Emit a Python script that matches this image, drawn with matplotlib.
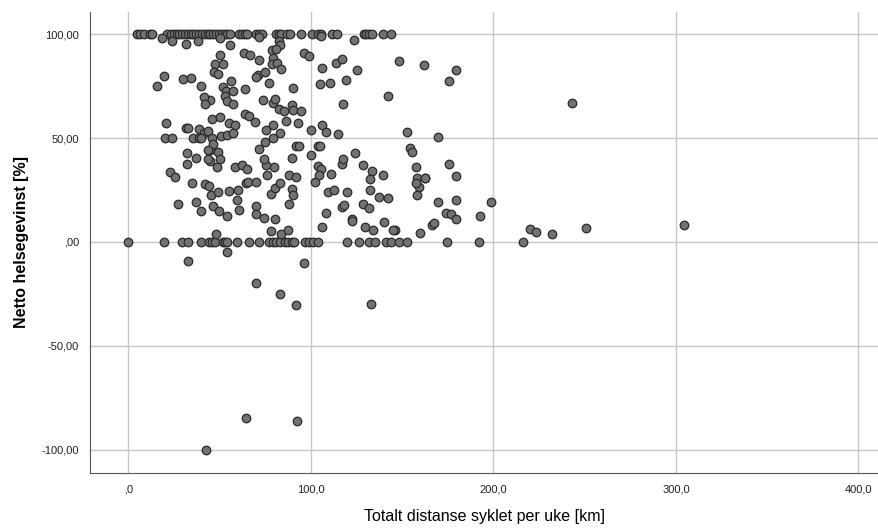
import numpy as np
import matplotlib
matplotlib.use("Agg")
import matplotlib.pyplot as plt

# points (km per week, net health gain %)
top_row_x = [4.7, 6.2, 8.7, 11.8, 13, 21, 23.3, 24.8, 26.4, 28, 29.5, 31, 32.6, 34.2, 35.7,
             37.3, 38.8, 40.4, 41.9, 43.5, 45, 46.6, 48.1, 49.7, 51.2, 52.8, 54.3, 55.9,
             60.6, 62.1, 63.7, 65.2, 69.9, 71.4, 73, 80.7, 82.3, 83.9, 87, 88.5, 94.7,
             100.9, 104, 105.6, 111.8, 114.3, 128.9, 130.4, 132, 133.5, 139.8, 143.8]

zero_row_x = [0, 19.6, 29.5, 32.9, 39.8, 44.1, 45.7, 47.5, 51.6, 52.8, 54.3, 59.6, 66.1,
              71.7, 77, 79.2, 80.7, 83.2, 85.7, 87.6, 89.4, 90.7, 96.6, 98.8, 101.2,
              104, 119.9, 126.4, 132, 135.1, 141, 143.8, 148.1, 152.8, 174.8, 191.9, 216.5]

# remaining points as screen readings in a 1568-wide view (px, py)
other_px = [
    (290, 112), (307, 122), (331, 130), (352, 122), (392, 112), (410, 132), (460, 110),
    (495, 122), (570, 108), (628, 120), (497, 135), (483, 147), (490, 145),
    (540, 157), (548, 165), (391, 162), (434, 158), (444, 163), (461, 178), (485, 172),
    (483, 190), (493, 188), (499, 205), (383, 190), (396, 190), (707, 181), (752, 192),
    (808, 207), (597, 187), (606, 175), (572, 203), (633, 207), (459, 223), (471, 213),
    (293, 224), (326, 234), (340, 230), (381, 212), (388, 220), (412, 240), (358, 255),
    (396, 258), (402, 270), (415, 270), (435, 265), (401, 285), (404, 300), (414, 308),
    (375, 296), (363, 287), (366, 307), (280, 256), (521, 260), (568, 248), (586, 247),
    (614, 237), (795, 241), (688, 285), (467, 298), (486, 305), (488, 292), (495, 322),
    (504, 328), (519, 310), (520, 327), (534, 330), (609, 307), (478, 245), (455, 228),
    (1013, 306),
    (435, 337), (443, 345), (297, 365), (378, 352), (392, 348), (408, 366), (418, 370),
    (453, 363), (472, 386), (486, 372), (497, 395), (508, 358), (529, 366), (552, 386),
    (572, 370), (578, 390), (600, 398), (331, 380), (336, 380), (355, 382), (363, 394),
    (370, 388), (377, 410), (393, 402), (404, 400), (414, 395), (294, 409), (307, 410),
    (345, 408), (355, 410), (358, 410),
    (722, 392), (776, 406), (552, 460), (526, 433), (531, 432), (565, 432), (568, 432),
    (727, 438), (730, 452), (630, 453), (460, 442), (471, 422), (486, 410), (375, 445),
    (380, 428), (370, 444), (388, 452), (392, 472), (375, 478), (386, 496), (370, 470),
    (333, 453), (349, 468), (333, 486), (418, 494), (430, 490), (440, 500), (487, 494),
    (473, 488), (470, 470), (519, 468), (565, 492), (570, 500), (607, 485), (609, 470),
    (644, 488), (737, 495), (796, 485), (740, 528), (754, 528), (808, 522),
    (303, 510), (313, 525), (343, 543), (366, 545), (372, 552), (376, 577), (349, 598),
    (358, 625), (318, 605), (380, 612), (390, 625), (404, 640), (408, 565), (388, 570),
    (424, 563), (422, 594), (426, 623), (437, 543), (441, 541), (455, 540), (455, 610),
    (456, 634), (474, 520), (470, 645), (482, 575), (489, 558), (498, 543), (514, 520),
    (519, 560), (521, 578), (514, 605), (526, 525), (560, 540), (566, 520), (583, 568),
    (578, 630), (587, 517), (593, 563), (606, 613), (610, 608), (616, 568), (624, 648),
    (624, 655), (643, 605), (654, 617), (660, 507), (657, 562), (656, 530), (673, 583),
    (680, 520), (689, 587), (681, 657), (700, 682), (743, 555), (740, 577), (738, 543),
    (744, 690), (753, 527), (776, 598), (766, 666), (770, 662), (791, 630), (799, 634),
    (808, 592), (808, 650), (850, 640), (870, 600),
    (482, 686), (488, 650), (500, 693), (511, 682), (571, 674), (385, 695), (938, 678),
    (950, 688), (977, 694), (1038, 675), (1210, 666), (648, 673), (662, 682), (697, 682),
    (404, 746), (336, 773), (539, 781), (455, 840), (498, 871), (526, 905), (658, 900),
    (438, 1238), (528, 1248), (367, 1333),
]

other_x = [round((p[0] - 230) / 3.22, 1) for p in other_px]
other_y = [round((717 - p[1]) / 6.155, 1) for p in other_px]

km = np.array(top_row_x + zero_row_x + other_x)
gain = np.array([100.0] * len(top_row_x) + [0.0] * len(zero_row_x) + other_y)

x_ticks = [0, 100, 200, 300, 400]
x_labels = [",0", "100,0", "200,0", "300,0", "400,0"]
y_ticks = [-100, -50, 0, 50, 100]
y_labels = ["-100,00", "-50,00", ",00", "50,00", "100,00"]

plt.rcParams['font.family'] = ['Liberation Sans', 'DejaVu Sans']

fig = plt.figure(figsize=(8.79, 5.29), dpi=100)
ax = fig.add_axes([0.1024, 0.1059, 0.897, 0.8715])

ax.scatter(km, gain, s=38, facecolor='#727272', edgecolor='#2a2a2a', linewidth=0.9, zorder=3)

ax.set_xlim(-21, 411)
ax.set_ylim(-111.3, 110.7)
ax.set_xticks(x_ticks)
ax.set_xticklabels(x_labels)
ax.set_yticks(y_ticks)
ax.set_yticklabels(y_labels)
ax.tick_params(length=0, labelsize=8, colors='#222222', pad=8)
ax.grid(True, color='#c8c8c8', linewidth=1)
ax.set_axisbelow(True)

for side in ['top', 'right']:
    ax.spines[side].set_visible(False)
for side in ['left', 'bottom']:
    ax.spines[side].set_color('#555555')

ax.set_xlabel('Totalt distanse syklet per uke [km]', fontsize=11.5, labelpad=11)
ax.set_ylabel('Netto helsegevinst [%]', fontsize=11.5, fontweight='bold', labelpad=9)

fig.savefig('out.png', dpi=100)
